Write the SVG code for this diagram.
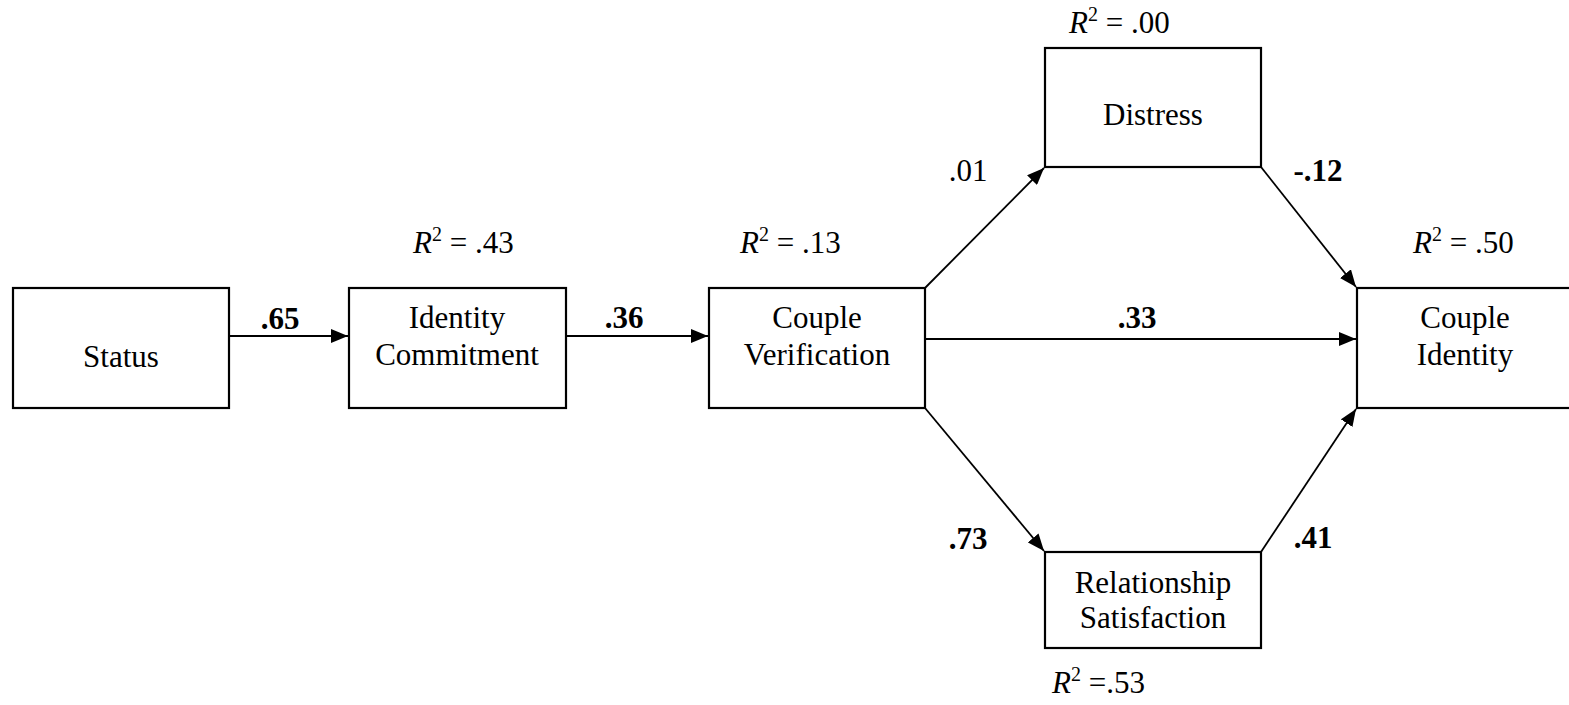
<svg xmlns="http://www.w3.org/2000/svg" width="1569" height="705" viewBox="0 0 1569 705">
<style>
text{font-family:"Liberation Serif","Times New Roman",serif;font-size:31px;fill:#000}
.box{fill:#fff;stroke:#000;stroke-width:2.2}
.c{text-anchor:middle}
.b{font-weight:bold}
.edge{stroke:#000;stroke-width:1.8;fill:none;marker-end:url(#ah)}
.sup{font-size:20px}
</style>
<defs>
<marker id="ah" markerUnits="userSpaceOnUse" markerWidth="18" markerHeight="14" refX="17" refY="7" orient="auto">
<path d="M0,0 L17,7 L0,14 Z" fill="#000"/>
</marker>
</defs>
<g id="connectors">
<line class="edge" x1="229" y1="336" x2="348" y2="336"/>
<line class="edge" x1="566" y1="336" x2="708" y2="336"/>
<line class="edge" x1="925" y1="339" x2="1356" y2="339"/>
<line class="edge" x1="925" y1="288" x2="1044" y2="168"/>
<line class="edge" x1="1261" y1="167" x2="1356" y2="287"/>
<line class="edge" x1="925" y1="408" x2="1044" y2="551"/>
<line class="edge" x1="1261" y1="552" x2="1356" y2="409"/>
<text class="b c" x="280" y="329">.65</text>
<text class="b c" x="624" y="328">.36</text>
<text class="b c" x="1137" y="328">.33</text>
<text class="c" x="968" y="181">.01</text>
<text class="b c" x="1318" y="181">-.12</text>
<text class="b c" x="968" y="549">.73</text>
<text class="b c" x="1313" y="548">.41</text>
</g>
<g id="status">
<rect class="box" x="13" y="288" width="216" height="120"/>
<text class="c" x="121" y="367">Status</text>
</g>
<g id="identity-commitment">
<rect class="box" x="349" y="288" width="217" height="120"/>
<text class="c" x="457" y="328">Identity</text>
<text class="c" x="457" y="365">Commitment</text>
<text x="413" y="253"><tspan font-style="italic">R</tspan><tspan class="sup" dy="-12">2</tspan><tspan dy="12"> = .43</tspan></text>
</g>
<g id="couple-verification">
<rect class="box" x="709" y="288" width="216" height="120"/>
<text class="c" x="817" y="328">Couple</text>
<text class="c" x="817" y="365">Verification</text>
<text x="740" y="253"><tspan font-style="italic">R</tspan><tspan class="sup" dy="-12">2</tspan><tspan dy="12"> = .13</tspan></text>
</g>
<g id="distress">
<rect class="box" x="1045" y="48" width="216" height="119"/>
<text class="c" x="1153" y="125">Distress</text>
<text x="1069" y="33"><tspan font-style="italic">R</tspan><tspan class="sup" dy="-12">2</tspan><tspan dy="12"> = .00</tspan></text>
</g>
<g id="relationship-satisfaction">
<rect class="box" x="1045" y="552" width="216" height="96"/>
<text class="c" x="1153" y="593">Relationship</text>
<text class="c" x="1153" y="628">Satisfaction</text>
<text x="1052" y="693"><tspan font-style="italic">R</tspan><tspan class="sup" dy="-12">2</tspan><tspan dy="12"> =.53</tspan></text>
</g>
<g id="couple-identity">
<rect class="box" x="1357" y="288" width="220" height="120"/>
<text class="c" x="1465" y="328">Couple</text>
<text class="c" x="1465" y="365">Identity</text>
<text x="1413" y="253"><tspan font-style="italic">R</tspan><tspan class="sup" dy="-12">2</tspan><tspan dy="12"> = .50</tspan></text>
</g>
</svg>
